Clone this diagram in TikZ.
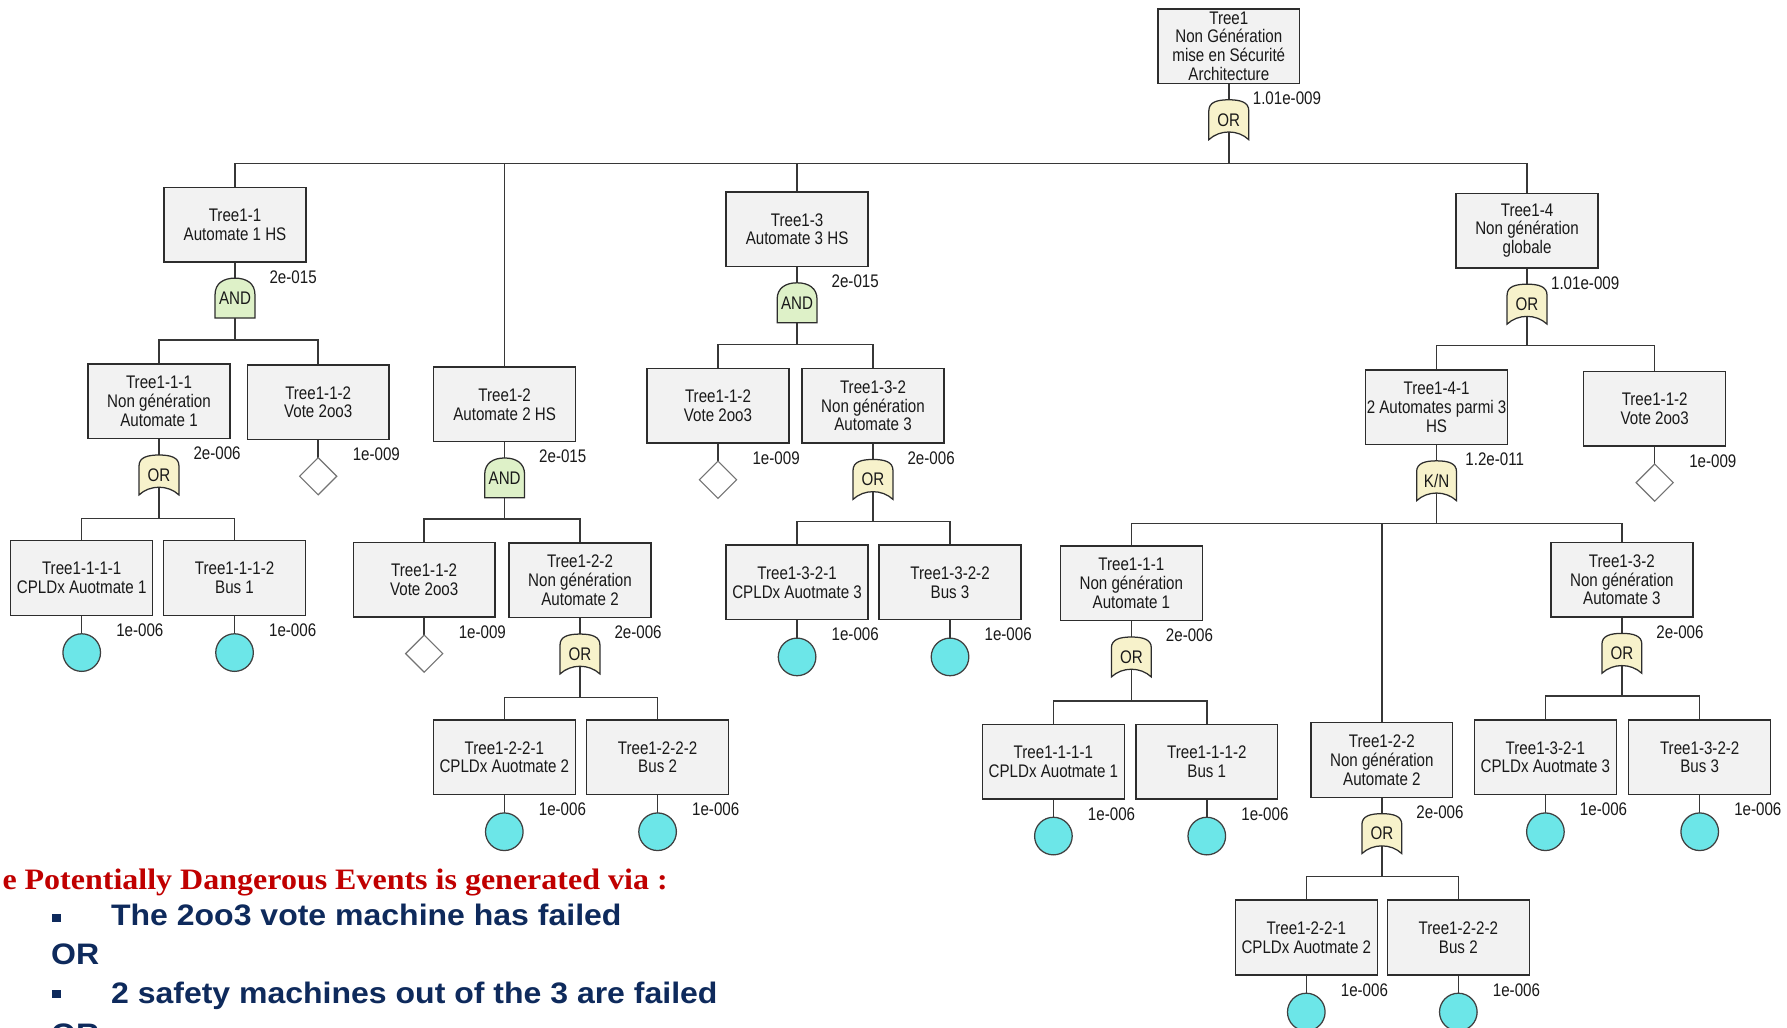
\documentclass[tikz,border=0pt]{standalone}
\usepackage{fontspec}
\setmainfont{Liberation Sans}
\newfontfamily\treefont{Liberation Sans}[FakeStretch=0.83]
\newfontfamily\notesans{Liberation Sans}[FakeStretch=1.08]
\newfontfamily\noteserif{Liberation Serif}[FakeStretch=1.08]
\usetikzlibrary{positioning,shapes.geometric}

\pgfdeclarelayer{wires}
\pgfdeclarelayer{gates}
\pgfsetlayers{wires,gates,main}

\definecolor{boxfill}{RGB}{242,242,242}
\definecolor{boxline}{RGB}{45,45,45}
\definecolor{wire}{RGB}{55,55,55}
\definecolor{andfill}{RGB}{222,241,200}
\definecolor{orfill}{RGB}{247,242,203}
\definecolor{basicfill}{RGB}{108,230,232}
\definecolor{titlered}{RGB}{192,0,0}
\definecolor{navy}{RGB}{14,42,92}

\tikzset{
  treetext/.style={font=\treefont\fontsize{16}{16.5}\selectfont, text=black!90},
  event/.style={treetext, draw=boxline, fill=boxfill, line width=1.2pt,
    minimum width=124.5pt, minimum height=65.5pt, inner sep=0pt, align=center},
  gateline/.style={draw=boxline, line width=1.1pt},
  gatebase/.style={treetext, minimum width=38pt, minimum height=38pt, inner sep=0pt},
  % AND: dome on top, flat base
  andoutline/.pic={
    \draw[gateline, fill=andfill]
      (-17.5,17.5) -- (-17.5,-3) .. controls (-17.5,-13) and (-10,-17.5) .. (0,-17.5)
      .. controls (10,-17.5) and (17.5,-13) .. (17.5,-3) -- (17.5,17.5) -- cycle;},
  % OR and K/N: rounded shoulders, hollow base
  oroutline/.pic={
    \draw[gateline, fill=orfill]
      (-17.5,17.5) -- (-17.5,-8) .. controls (-17.5,-15.5) and (-10,-17.5) .. (0,-17.5)
      .. controls (10,-17.5) and (17.5,-15.5) .. (17.5,-8) -- (17.5,17.5)
      .. controls (8,8.5) and (-8,8.5) .. cycle;},
  basic/.style={circle, draw=black!75, fill=basicfill, line width=1.1pt,
    minimum size=33pt, inner sep=0pt},
  house/.style={diamond, draw=black!55, fill=white, line width=1pt,
    minimum width=33pt, minimum height=33pt, inner sep=0pt},
  prob/.style={treetext, inner sep=0pt},
  wirestyle/.style={draw=wire, line width=1.3pt},
  note/.style={anchor=base west, inner sep=0pt},
  redline/.style={note, text=titlered, font=\noteserif\bfseries\fontsize{26}{30}\selectfont},
  blueline/.style={note, text=navy, font=\notesans\bfseries\fontsize{26}{30}\selectfont},
  square/.style={fill=navy, minimum width=8pt, minimum height=7.5pt, inner sep=0pt},
}

% gate under a box (#1 = and/or outline), with the stem down to its bus at height #4
\newcommand\gatebelow[4]{%
  \node[gatebase, below=12pt of #2] (G-#2) {#3};
  \begin{pgfonlayer}{gates}
    \path (G-#2.center) pic {#1outline};
  \end{pgfonlayer}
  \coordinate (B-#2) at (#2.south |- 0,#4);
  \begin{pgfonlayer}{wires}
    \draw[wirestyle] (#2.south) -- (G-#2.center) -- (B-#2);
  \end{pgfonlayer}}
% bus from a gate to each child box
\newcommand\branch[2]{%
  \begin{pgfonlayer}{wires}
    \foreach \kid in {#2} {\draw[wirestyle] (B-#1) -| (\kid.north);}
  \end{pgfonlayer}}
\newcommand\problabel[2]{\node[prob] (P-#1) at ([xshift=51pt,yshift=-12.5pt]#1.south) {#2};}
\newcommand\basicbelow[1]{%
  \node[basic, below=15pt of #1] (E-#1) {};
  \begin{pgfonlayer}{wires}\draw[wirestyle] (#1.south) -- (E-#1.center);\end{pgfonlayer}}
\newcommand\housebelow[1]{%
  \node[house, below=14.5pt of #1] (H-#1) {};
  \begin{pgfonlayer}{wires}\draw[wirestyle] (#1.south) -- (H-#1.center);\end{pgfonlayer}}

\begin{document}
\begin{tikzpicture}[x=1pt,y=-1pt]
\begin{pgfonlayer}{wires}
  \fill[white] (0,0) rectangle (1568,902);
\end{pgfonlayer}
\useasboundingbox (0,0) rectangle (1568,902);

% ---- event boxes ----
\node[event] (T1) at (1078.2,40.5) {Tree1\\Non Génération\\mise en Sécurité\\Architecture};

\node[event] (T11) at (206.2,197) {Tree1-1\\Automate 1 HS};
\node[event] (T12) at (442.8,354.8) {Tree1-2\\Automate 2 HS};
\node[event] (T13) at (699.4,201.1) {Tree1-3\\Automate 3 HS};
\node[event] (T14) at (1339.9,202.3) {Tree1-4\\Non génération\\globale};

\node[event] (T111) at (139.5,352.2) {Tree1-1-1\\Non génération\\Automate 1};
\node[event] (T112a) at (279.2,353) {Tree1-1-2\\Vote 2oo3};
\node[event] (T1111) at (71.7,507.2) {Tree1-1-1-1\\CPLDx Auotmate 1};
\node[event] (T1112) at (205.8,507.2) {Tree1-1-1-2\\Bus 1};

\node[event] (T112b) at (372.2,508.7) {Tree1-1-2\\Vote 2oo3};
\node[event] (T122) at (508.9,509.3) {Tree1-2-2\\Non génération\\Automate 2};
\node[event] (T1221) at (442.5,664.4) {Tree1-2-2-1\\CPLDx Auotmate 2};
\node[event] (T1222) at (577,664.4) {Tree1-2-2-2\\Bus 2};

\node[event] (T112c) at (630,356.1) {Tree1-1-2\\Vote 2oo3};
\node[event] (T132) at (766,356.1) {Tree1-3-2\\Non génération\\Automate 3};
\node[event] (T1321) at (699.4,511) {Tree1-3-2-1\\CPLDx Auotmate 3};
\node[event] (T1322) at (833.6,511) {Tree1-3-2-2\\Bus 3};

\node[event] (T141) at (1260.5,357.3) {Tree1-4-1\\2 Automates parmi 3\\HS};
\node[event] (T112d) at (1451.9,358.6) {Tree1-1-2\\Vote 2oo3};
\node[event] (T111b) at (992.7,511.9) {Tree1-1-1\\Non génération\\Automate 1};
\node[event] (T1111b) at (924.3,668.2) {Tree1-1-1-1\\CPLDx Auotmate 1};
\node[event] (T1112b) at (1058.9,668.2) {Tree1-1-1-2\\Bus 1};
\node[event] (T122b) at (1212.5,666.9) {Tree1-2-2\\Non génération\\Automate 2};
\node[event] (T1221b) at (1146.2,822.6) {Tree1-2-2-1\\CPLDx Auotmate 2};
\node[event] (T1222b) at (1279.6,822.6) {Tree1-2-2-2\\Bus 2};
\node[event] (T132b) at (1423.1,508.7) {Tree1-3-2\\Non génération\\Automate 3};
\node[event] (T1321b) at (1356,664.4) {Tree1-3-2-1\\CPLDx Auotmate 3};
\node[event] (T1322b) at (1491.4,664.4) {Tree1-3-2-2\\Bus 3};

% ---- gates and buses ----
\gatebelow{or}{T1}{OR}{143.3}
\branch{T1}{T11,T12,T13,T14}
\gatebelow{and}{T11}{AND}{298.3}
\branch{T11}{T111,T112a}
\gatebelow{and}{T12}{AND}{455.4}
\branch{T12}{T112b,T122}
\gatebelow{and}{T13}{AND}{302.1}
\branch{T13}{T112c,T132}
\gatebelow{or}{T14}{OR}{303.3}
\branch{T14}{T141,T112d}
\gatebelow{or}{T111}{OR}{454.8}
\branch{T111}{T1111,T1112}
\gatebelow{or}{T122}{OR}{611.9}
\branch{T122}{T1221,T1222}
\gatebelow{or}{T132}{OR}{457.7}
\branch{T132}{T1321,T1322}
\gatebelow{or}{T141}{K/N}{459.2}
\branch{T141}{T111b,T122b,T132b}
\gatebelow{or}{T111b}{OR}{615.1}
\branch{T111b}{T1111b,T1112b}
\gatebelow{or}{T122b}{OR}{769.2}
\branch{T122b}{T1221b,T1222b}
\gatebelow{or}{T132b}{OR}{610.7}
\branch{T132b}{T1321b,T1322b}

% ---- basic and undeveloped events ----
\foreach \leaf in {T1111,T1112,T1221,T1222,T1321,T1322,T1111b,T1112b,T1221b,T1222b,T1321b,T1322b}
  {\basicbelow{\leaf}}
\foreach \leaf in {T112a,T112b,T112c,T112d}
  {\housebelow{\leaf}}

% ---- probabilities ----
\problabel{T1}{1.01e-009}
\problabel{T11}{2e-015}
\problabel{T12}{2e-015}
\problabel{T13}{2e-015}
\problabel{T14}{1.01e-009}
\problabel{T111}{2e-006}
\problabel{T122}{2e-006}
\problabel{T132}{2e-006}
\problabel{T141}{1.2e-011}
\problabel{T111b}{2e-006}
\problabel{T122b}{2e-006}
\problabel{T132b}{2e-006}
\foreach \leaf in {T112a,T112b,T112c,T112d}
  {\problabel{\leaf}{1e-009}}
\foreach \leaf in {T1111,T1112,T1221,T1222,T1321,T1322,T1111b,T1112b,T1221b,T1222b,T1321b,T1322b}
  {\problabel{\leaf}{1e-006}}

% ---- notes ----
\node[redline] (head) at (2,780.3) {e Potentially Dangerous Events is generated via :};
\node[square] (dot1) at (49.7,805.3) {};
\node[blueline] (item1) at (97.3,812.5) {The 2oo3 vote machine has failed};
\node[blueline] (or1) at (44.7,846.7) {OR};
\node[square] (dot2) at (49.7,872.3) {};
\node[blueline] (item2) at (97.3,880.3) {2 safety machines out of the 3 are failed};
\node[blueline] (or2) at (44.7,916.5) {OR};
\end{tikzpicture}
\end{document}
